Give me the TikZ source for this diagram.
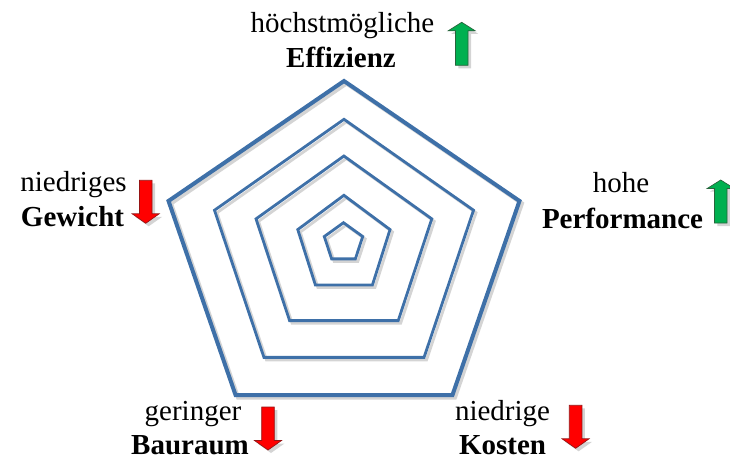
\documentclass[tikz,border=0pt]{standalone}
\usepackage{fontspec}
\setmainfont{Liberation Serif}
\definecolor{penblue}{RGB}{62,112,168}
\definecolor{upgreen}{RGB}{0,176,80}
\definecolor{upgreenline}{RGB}{40,100,60}
\definecolor{downred}{RGB}{255,0,0}
\definecolor{downredline}{RGB}{150,20,20}
\definecolor{dropgray}{RGB}{212,212,212}

% pentagon: centre x, centre y, radius x, radius y, line width
\newcommand{\pentaring}[5]{%
  \draw[dropgray, line width=#5, line join=miter, xshift=2.5pt, yshift=-2.5pt]
    ({#1+#3*cos(90)},{#2-#4*sin(90)}) -- ({#1+#3*cos(162)},{#2-#4*sin(162)}) --
    ({#1+#3*cos(234)},{#2-#4*sin(234)}) -- ({#1+#3*cos(306)},{#2-#4*sin(306)}) --
    ({#1+#3*cos(18)},{#2-#4*sin(18)}) -- cycle;
  \draw[penblue, line width=#5, line join=miter]
    ({#1+#3*cos(90)},{#2-#4*sin(90)}) -- ({#1+#3*cos(162)},{#2-#4*sin(162)}) --
    ({#1+#3*cos(234)},{#2-#4*sin(234)}) -- ({#1+#3*cos(306)},{#2-#4*sin(306)}) --
    ({#1+#3*cos(18)},{#2-#4*sin(18)}) -- cycle;
}

% block arrow pointing up, tip at (#1,#2)
\newcommand{\blockup}[2]{%
  \fill[dropgray] (#1+3,#2+3) -- ++(13.5,8.5) -- ++(-7.2,0) -- ++(0,34.5) -- ++(-12.6,0)
    -- ++(0,-34.5) -- ++(-7.2,0) -- cycle;
  \draw[upgreenline, fill=upgreen, line width=0.7pt, line join=miter]
    (#1,#2) -- ++(13.5,8.5) -- ++(-7.2,0) -- ++(0,34.5) -- ++(-12.6,0)
    -- ++(0,-34.5) -- ++(-7.2,0) -- cycle;
}
% block arrow pointing down, tip at (#1,#2)
\newcommand{\blockdown}[2]{%
  \fill[dropgray] (#1+3,#2+3) -- ++(13.5,-9.5) -- ++(-7.2,0) -- ++(0,-33.5) -- ++(-12.6,0)
    -- ++(0,33.5) -- ++(-7.2,0) -- cycle;
  \draw[downredline, fill=downred, line width=0.7pt, line join=miter]
    (#1,#2) -- ++(13.5,-9.5) -- ++(-7.2,0) -- ++(0,-33.5) -- ++(-12.6,0)
    -- ++(0,33.5) -- ++(-7.2,0) -- cycle;
}

\tikzset{
  lbl/.style={anchor=base, inner sep=0pt, font=\fontsize{29}{34}\selectfont},
  blbl/.style={lbl, font=\fontsize{29}{34}\selectfont\bfseries}
}

\begin{document}
\begin{tikzpicture}[x=1pt, y=-1pt]
\useasboundingbox (0,0) rectangle (730,457);

% concentric pentagons
\pentaring{344}{254.6}{184.5}{173.6}{4pt}
\pentaring{344}{250.9}{136.2}{131.6}{2.8pt}
\pentaring{343.9}{247}{92.4}{91}{2.8pt}
\pentaring{343.9}{244.9}{48.5}{49.6}{2.8pt}
\pentaring{343.5}{242.7}{20.2}{20}{2.8pt}

% labels
\node[lbl]  (effa) at (342.5,33) {höchstmögliche};
\node[blbl] (effb) at (341,68) {Effizienz};
\node[lbl]  (perfa) at (621,193) {hohe};
\node[blbl] (perfb) at (622.5,228) {Performance};
\node[lbl]  (gewa) at (73.5,191) {niedriges};
\node[blbl] (gewb) at (72.5,226) {Gewicht};
\node[lbl]  (baua) at (193,420) {geringer};
\node[blbl] (baub) at (190,454) {Bauraum};
\node[lbl]  (kosa) at (502.5,420) {niedrige};
\node[blbl] (kosb) at (502.5,454) {Kosten};

% direction arrows
\blockup{461.7}{22.3}
\blockup{720.7}{180}
\blockdown{145.7}{223.3}
\blockdown{268}{450}
\blockdown{575.6}{448.3}
\end{tikzpicture}
\end{document}
